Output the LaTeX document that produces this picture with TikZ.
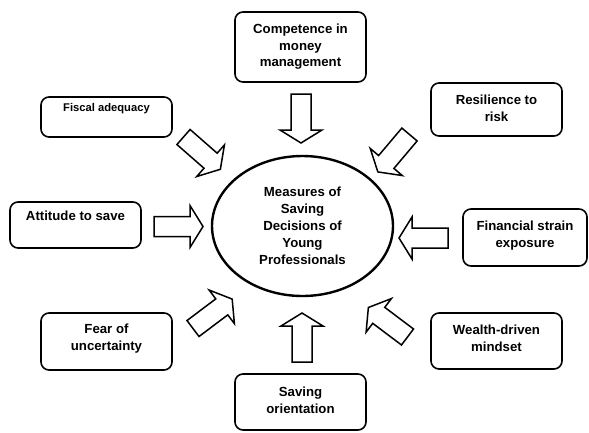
\documentclass[tikz,border=0pt]{standalone}
\usepackage{fontspec}
\setmainfont{Liberation Sans}
\usetikzlibrary{shapes.geometric}
% hollow block arrow: tail centre at (#1,#2), pointing at angle #3
\newcommand\inflowarrow[3]{%
  \begin{scope}[shift={(#1,#2)}, rotate=#3]
    \draw[blockarrow] (0,-10) -- (36,-10) -- (36,-21) -- (49,0)
      -- (36,21) -- (36,10) -- (0,10) -- cycle;
  \end{scope}}
\begin{document}
\begin{tikzpicture}[x=1pt,y=-1pt,
  box/.style={draw, line width=1.6pt, rounded corners=8pt, inner sep=0pt},
  lbl/.style={align=center, inner sep=0pt,
    font=\fontsize{13.2}{16.5}\selectfont\bfseries},
  small/.style={align=center, inner sep=0pt,
    font=\fontsize{11.2}{14}\selectfont\bfseries},
  blockarrow/.style={draw, line width=1.5pt, fill=white, line join=miter},
]
\useasboundingbox (0,0) rectangle (589,432);

% central construct
\node[draw, ellipse, line width=2.4pt, minimum width=181pt, minimum height=140pt,
      inner sep=0pt, lbl, font=\fontsize{13.2}{17}\selectfont\bfseries] (core) at (302.5,226)
  {Measures of\\Saving\\Decisions of\\Young\\Professionals};

% surrounding factors
\node[box, minimum width=131pt, minimum height=70pt] (comp) at (300.5,47) {};
\node[lbl] (comptxt) at (300.5,47) {Competence in\\money\\management};

\node[box, minimum width=131pt, minimum height=40pt] (fiscal) at (106.5,117) {};
\node[small] (fiscaltxt) at (106.5,109) {Fiscal adequacy};

\node[box, minimum width=131pt, minimum height=53pt] (resil) at (496.5,109.5) {};
\node[lbl] (resiltxt) at (496.5,108.5) {Resilience to\\risk};

\node[box, minimum width=131pt, minimum height=46pt] (attitude) at (75.5,225) {};
\node[lbl] (attitudetxt) at (75.5,216) {Attitude to save};

\node[box, minimum width=124pt, minimum height=57pt] (strain) at (525,237.5) {};
\node[lbl] (straintxt) at (525,235.5) {Financial strain\\exposure};

\node[box, minimum width=131pt, minimum height=57pt] (fear) at (106.5,341.5) {};
\node[lbl] (feartxt) at (106.5,338.5) {Fear of\\uncertainty};

\node[box, minimum width=131pt, minimum height=56pt] (wealth) at (496.5,341) {};
\node[lbl] (wealthtxt) at (496.5,338.5) {Wealth-driven\\mindset};

\node[box, minimum width=131pt, minimum height=56pt] (saving) at (300.5,402) {};
\node[lbl] (savingtxt) at (300.5,400.5) {Saving\\orientation};

% block arrows pointing towards the centre
\inflowarrow{301}{94}{-90}
\inflowarrow{183.5}{137}{-41.2}
\inflowarrow{154}{226.5}{0}
\inflowarrow{193}{328.5}{36.9}
\inflowarrow{302}{362}{90}
\inflowarrow{407.5}{337}{143}
\inflowarrow{448}{238}{180}
\inflowarrow{409.5}{134.5}{-130.2}
\end{tikzpicture}
\end{document}
